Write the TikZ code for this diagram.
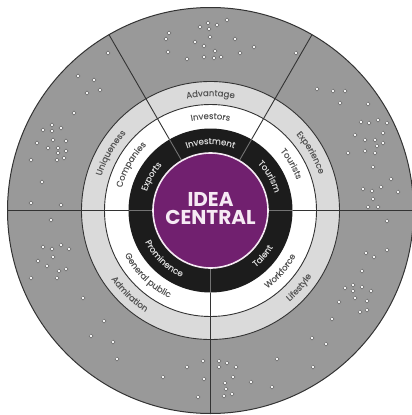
\documentclass[tikz,border=0pt]{standalone}
\usepackage{fontspec}
\setmainfont{Poppins}
\newfontfamily\lblfam[FakeBold=0.2]{Poppins}
\usetikzlibrary{decorations.text}
\definecolor{outerg}{HTML}{999999}
\definecolor{lightg}{HTML}{DADADA}
\definecolor{ringblk}{HTML}{1C1C1C}
\definecolor{purp}{HTML}{71206F}
\definecolor{edgec}{HTML}{333333}
\definecolor{labg}{HTML}{555555}
\definecolor{labw}{HTML}{D8D8D8}
\definecolor{idea}{HTML}{F6EAF4}
\newcommand\lblfont{\lblfam\fontsize{8.6}{10}\selectfont}
\tikzset{
  arclab/.style 2 args={decorate, decoration={text along path, text align=center, text color=#2, text={|\lblfont|#1}}},
  dot/.style={fill=white, draw=black!60, line width=0.5pt},
  divider/.style={edgec, line width=0.9pt},
  dividerin/.style={black!55, line width=0.9pt}
}
\begin{document}
\begin{tikzpicture}[x=1pt,y=1pt]
\useasboundingbox (0,-415) rectangle (412,0);
\fill[white] (0,-415) rectangle (412,0);
\begin{scope}[shift={(210.5,-210.5)}]
  \fill[outerg, draw=edgec, line width=1pt] (0,0) circle (203);
  \fill[lightg, draw=edgec, line width=0.9pt] (0,0) circle (129);
  \fill[white, draw=edgec, line width=0.9pt] (0,0) circle (106);
  \fill[ringblk] (0,0) circle (82);
  \foreach \a in {0,60,120,180,270} {
    \draw[divider] (\a:82) -- (\a:203);
    \draw[dividerin] (\a:58) -- (\a:82);
  }
  \fill[purp, draw=idea, line width=1.6pt] (0,0) circle (57.5);
  \node[font=\bfseries\fontsize{20}{18}\selectfont, text=idea, align=center, inner sep=0pt] (core) at (0,1.5) {IDEA\\CENTRAL};
  % top sector (clockwise)
  \path[arclab={Advantage}{labg}] (130:114.5) arc[start angle=130, end angle=50, radius=114.5];
  \path[arclab={Investors}{labg}] (130:91.5) arc[start angle=130, end angle=50, radius=91.5];
  \path[arclab={Investment}{labw}] (135:66.5) arc[start angle=135, end angle=45, radius=66.5];
  % upper-left sector (clockwise)
  \path[arclab={Uniqueness}{labg}] (190:114.5) arc[start angle=190, end angle=110, radius=114.5];
  \path[arclab={Companies}{labg}] (190:91.5) arc[start angle=190, end angle=110, radius=91.5];
  \path[arclab={Exports}{labw}] (195:66.5) arc[start angle=195, end angle=105, radius=66.5];
  % upper-right sector (clockwise)
  \path[arclab={Experience}{labg}] (70:114.5) arc[start angle=70, end angle=-10, radius=114.5];
  \path[arclab={Tourists}{labg}] (70:91.5) arc[start angle=70, end angle=-10, radius=91.5];
  \path[arclab={Tourism}{labw}] (75:66.5) arc[start angle=75, end angle=-15, radius=66.5];
  % lower-right sector (counter-clockwise)
  \path[arclab={Lifestyle}{labg}] (279:120.5) arc[start angle=279, end angle=359, radius=120.5];
  \path[arclab={Workforce}{labg}] (279:96.5) arc[start angle=279, end angle=359, radius=96.5];
  \path[arclab={Talent}{labw}] (274:72.5) arc[start angle=274, end angle=364, radius=72.5];
  % lower-left sector (counter-clockwise)
  \path[arclab={Admiration}{labg}] (186:120.5) arc[start angle=186, end angle=266, radius=120.5];
  \path[arclab={General public}{labg}] (186:96.5) arc[start angle=186, end angle=266, radius=96.5];
  \path[arclab={Prominence}{labw}] (181:72.5) arc[start angle=181, end angle=271, radius=72.5];
\end{scope}
% scattered dots (image coordinates)
\foreach \x/\y in {
  169/33,166/39,168/52,187/59,200/27,208/23,209/29,217/25,227/20,195/42,210/37,204/46,215/51,204/57,214/58,221/57,235/39,240/53,254/47,296/53,
  108/53,78/76,94/80,87/93,100/90,74/113,52/125,43/130,52/131,61/128,37/143,53/140,66/141,48/148,58/148,66/151,58/153,57/160,64/158,31/160,42/182,31/203,61/205,
  317/89,333/91,345/91,340/103,368/104,361/122,369/123,378/120,387/123,383/133,355/135,365/140,375/140,383/143,377/146,348/153,365/151,375/153,373/167,391/179,381/187,363/189,372/191,398/192,373/199,368/207,378/207,
  51/220,43/247,52/249,61/245,69/249,53/257,38/261,47/266,59/271,66/269,31/278,57/278,83/298,104/321,91/336,113/342,117/359,163/377,187/367,203/361,204/379,198/397,
  219/361,227/363,219/367,236/367,233/377,225/383,226/389,232/394,224/396,251/382,272/387,277/359,312/338,313/367,326/344,332/319,339/302,345/288,353/285,353/291,362/287,371/291,355/298,367/301,360/312,367/310,362/271,366/253,374/257,387/250,387/221}
  \path[dot] (\x,-\y) circle (1.9);
\end{tikzpicture}
\end{document}
